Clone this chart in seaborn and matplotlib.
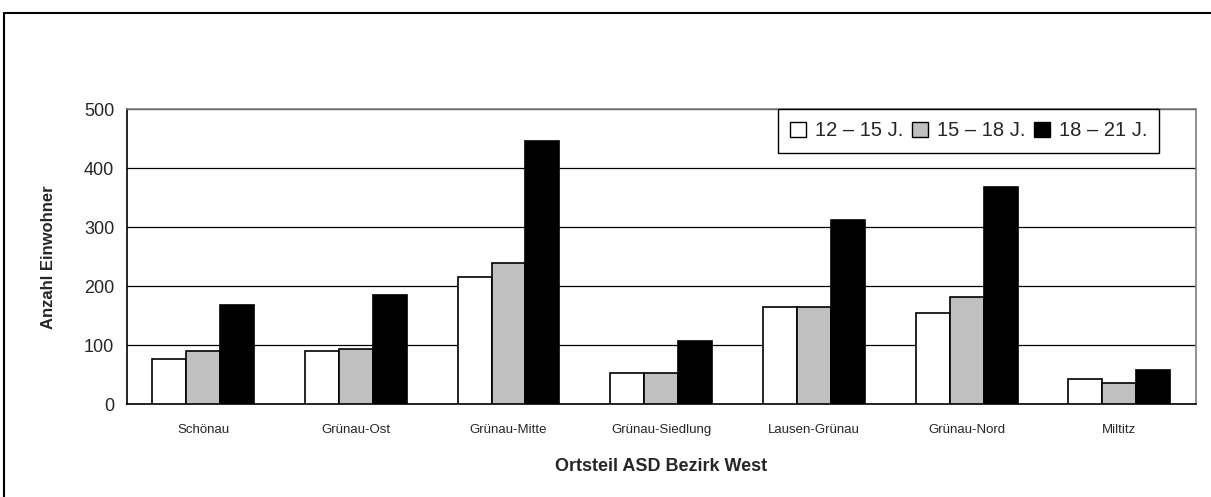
import matplotlib
matplotlib.use("Agg")
import matplotlib.pyplot as plt
from matplotlib.lines import Line2D
from matplotlib.patches import Patch
import seaborn as sns
import pandas as pd
import numpy as np

# Daten
ORTSTEILE = ["Schönau", "Grünau-Ost", "Grünau-Mitte", "Grünau-Siedlung",
             "Lausen-Grünau", "Grünau-Nord", "Miltitz"]
ALTERSGRUPPEN = ["12 – 15 J.", "15 – 18 J.", "18 – 21 J."]
WERTE_12_15 = [77, 90, 216, 53, 165, 155, 43]
WERTE_15_18 = [90, 94, 239, 53, 165, 182, 36]
WERTE_18_21 = [169, 186, 447, 108, 312, 369, 58]
Y_TICKS = [0, 100, 200, 300, 400, 500]

FARBEN = ["#FFFFFF", "#C0C0C0", "#000000"]

df = pd.DataFrame({
    "Ortsteil": ORTSTEILE * 3,
    "Gruppe": [ALTERSGRUPPEN[0]] * 7 + [ALTERSGRUPPEN[1]] * 7 + [ALTERSGRUPPEN[2]] * 7,
    "Anzahl": WERTE_12_15 + WERTE_15_18 + WERTE_18_21,
})

sns.set_style("white")
plt.rcParams["font.family"] = ["Liberation Sans", "DejaVu Sans"]

fig = plt.figure(figsize=(12.11, 4.97), dpi=100)
ax = fig.add_axes([0.1046, 0.1865, 0.9874 - 0.1046, 0.780 - 0.1865])

sns.barplot(data=df, x="Ortsteil", y="Anzahl", hue="Gruppe",
            order=ORTSTEILE, hue_order=ALTERSGRUPPEN,
            palette=FARBEN, width=0.667, edgecolor="black", linewidth=1.2,
            saturation=1, errorbar=None, ax=ax, zorder=3)

ax.set_ylim(0, 500)
ax.set_xlim(-0.5, len(ORTSTEILE) - 0.5)
ax.set_yticks(Y_TICKS)
ax.yaxis.grid(True, color="black", linewidth=0.9, zorder=0)
ax.set_axisbelow(True)

# Ticks zwischen den Gruppen
ax.set_xticks(np.arange(len(ORTSTEILE)))
ax.set_xticklabels(ORTSTEILE, fontsize=9.5)
ax.set_xticks(np.arange(-0.5, len(ORTSTEILE)), minor=True)
ax.tick_params(axis="x", which="major", length=0, pad=14)
ax.tick_params(axis="x", which="minor", length=5, width=1, color="black", direction="out")
ax.tick_params(axis="y", which="major", length=5, width=1, color="black",
               direction="out", labelsize=13, pad=4)

for side in ["left", "bottom"]:
    ax.spines[side].set_color("black")
    ax.spines[side].set_linewidth(1.2)
for side in ["top", "right"]:
    ax.spines[side].set_visible(True)
    ax.spines[side].set_color("#808080")
    ax.spines[side].set_linewidth(1.2)

ax.set_xlabel("Ortsteil ASD Bezirk West", fontsize=13, fontweight="bold", labelpad=16)
ax.set_ylabel("Anzahl Einwohner", fontsize=12, fontweight="bold", labelpad=20)

handles = [Patch(facecolor=c, edgecolor="black", linewidth=1) for c in FARBEN]
leg = ax.legend(handles, ALTERSGRUPPEN, ncol=3, loc="upper right",
                bbox_to_anchor=(0.966, 1.0), frameon=True, fancybox=False,
                edgecolor="black", framealpha=1, borderaxespad=0,
                handlelength=0.8, handleheight=0.8, handletextpad=0.45,
                columnspacing=0.4, fontsize=14.5, borderpad=0.6)
leg.get_frame().set_linewidth(1)
leg.set_zorder(5)

# Rahmen um das Diagramm
fig.add_artist(Line2D([4 / 1211, 4 / 1211], [0, 1 - 13 / 497], color="black", lw=1.5))
fig.add_artist(Line2D([4 / 1211, 1], [1 - 13 / 497, 1 - 13 / 497], color="black", lw=1.5))

fig.savefig("out.png", dpi=100)
